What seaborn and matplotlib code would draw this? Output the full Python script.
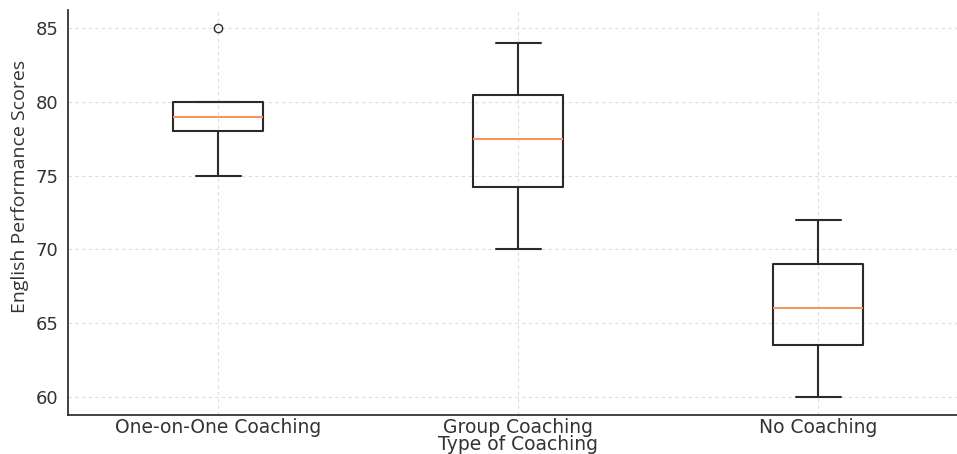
import pandas as pd
import matplotlib.pyplot as plt
import seaborn as sns

# data
categories = ["One-on-One Coaching", "Group Coaching", "No Coaching"]
one_on_one = [75, 77, 78, 78, 79, 79, 80, 80, 80, 85]
group = [70, 72, 74, 75, 77, 78, 79, 81, 82, 84]
no_coaching = [60, 62, 63, 65, 66, 66, 69, 69, 70, 72]

df = pd.DataFrame({
    "Type of Coaching": [categories[0]] * len(one_on_one)
    + [categories[1]] * len(group)
    + [categories[2]] * len(no_coaching),
    "English Performance Scores": one_on_one + group + no_coaching,
})

sns.set_style("white")
plt.rcParams["font.family"] = ["DejaVu Sans"]

fig = plt.figure(figsize=(9.57, 4.54), dpi=100)
ax = fig.add_axes([68 / 957, 39 / 454, 900 / 957, 405 / 454])

sns.boxplot(
    data=df, x="Type of Coaching", y="English Performance Scores",
    order=categories, width=0.3, fill=False, color="#2a2a2a",
    linewidth=1.5, whis=1.5,
    medianprops={"color": "#f4925a", "linewidth": 1.4},
    flierprops={"marker": "o", "markersize": 6, "markeredgecolor": "#2a2a2a",
                "markerfacecolor": "none"},
    ax=ax,
)

ax.set_xlim(-0.5, 2.5)
ax.set_ylim(58.75, 86.25)
ax.set_yticks([60, 65, 70, 75, 80, 85])
ax.grid(True, linestyle=(0, (3, 3)), color="#dcdcdc", linewidth=0.8)
ax.set_axisbelow(True)
sns.despine(ax=ax)
for s in ["left", "bottom"]:
    ax.spines[s].set_color("#333333")
    ax.spines[s].set_linewidth(1.3)

ax.tick_params(axis="x", direction="in", length=4, colors="#333333",
               labelsize=13.5, pad=2)
ax.tick_params(axis="y", length=0, colors="#333333", labelsize=13, pad=7)
ax.set_xlabel("Type of Coaching", fontsize=13.5, color="#333333", labelpad=-1)
ax.set_ylabel("English Performance Scores", fontsize=14, color="#333333",
              family="Open Sans")
ax.yaxis.set_label_coords(-0.043, 0.565)

fig.savefig("out.png", dpi=100)
